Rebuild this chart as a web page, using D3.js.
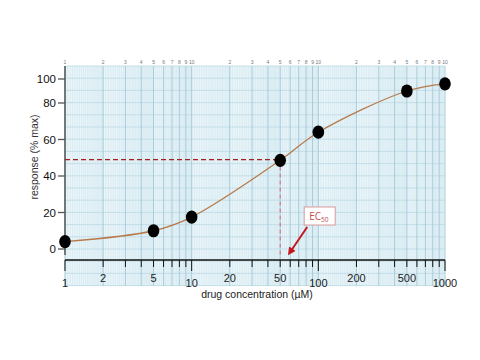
<!DOCTYPE html>
<html>
<head>
<meta charset="utf-8">
<script src="https://cdn.jsdelivr.net/npm/d3@7"></script>
<style>
  body { margin: 0; background: #fff; }
  svg { display: block; font-family: "Liberation Sans", Arial, sans-serif; }
</style>
</head>
<body>
<svg id="chart" width="480" height="360"></svg>
<script>
// data
const concentrations = [1, 5, 10, 50, 100, 500, 1000];
const responses = [4, 10, 17.5, 48.6, 64, 90, 96];
const ec50 = 50;
const ec50Response = 49;

const yTicks = [0, 20, 40, 60, 80, 100];
const xTickLabels = [1, 2, 5, 10, 20, 50, 100, 200, 500, 1000];
const decades = [1, 10, 100];

const width = 480;
const height = 360;
const plot = { left: 65, right: 445, top: 66, axis: 260, bgBottom: 286 };

const svg = d3.select("#chart");

const x = d3.scaleLog()
  .domain([1, 1000])
  .range([plot.left, plot.right]);

// the axis in the source is not evenly spaced above 80
const y = d3.scaleLinear()
  .domain([0, 80, 100])
  .range([249, 103, 79]);

// log paper background
const bg = svg.append("g");
bg.append("rect")
  .attr("x", plot.left)
  .attr("y", plot.top)
  .attr("width", plot.right - plot.left)
  .attr("height", plot.bgBottom - plot.top)
  .attr("fill", "#eaf5f9");

const fine = [];
decades.forEach(d => {
  d3.range(1, 2, 0.05).forEach(m => fine.push(m * d));
  d3.range(2, 5, 0.1).forEach(m => fine.push(m * d));
  d3.range(5, 10, 0.2).forEach(m => fine.push(m * d));
});
bg.selectAll(".fine")
  .data(fine)
  .enter()
  .append("line")
  .attr("x1", d => x(d))
  .attr("x2", d => x(d))
  .attr("y1", plot.top)
  .attr("y2", plot.bgBottom)
  .attr("stroke", "#cde5ee")
  .attr("stroke-width", 0.6);

// horizontal rules of the paper
bg.selectAll(".hrule")
  .data(d3.range(plot.top, plot.bgBottom, 12.2))
  .enter()
  .append("line")
  .attr("x1", plot.left)
  .attr("x2", plot.right)
  .attr("y1", d => d)
  .attr("y2", d => d)
  .attr("stroke", "#bcd9e4")
  .attr("stroke-width", 0.8);

const major = [];
decades.forEach(d => d3.range(1, 10).forEach(m => major.push(m * d)));
major.push(1000);
bg.selectAll(".major")
  .data(major)
  .enter()
  .append("line")
  .attr("x1", d => x(d))
  .attr("x2", d => x(d))
  .attr("y1", plot.top)
  .attr("y2", plot.bgBottom)
  .attr("stroke", "#a3c8d8")
  .attr("stroke-width", 0.9);

// tiny labels printed on top of the paper
bg.selectAll(".paper-label")
  .data(major)
  .enter()
  .append("text")
  .attr("x", d => x(d))
  .attr("y", plot.top - 2)
  .attr("text-anchor", "middle")
  .attr("fill", "#777")
  .style("font-size", "5px")
  .text(d => {
    const m = Math.round(d / Math.pow(10, Math.floor(Math.log10(d) + 1e-9)));
    if (d === 1) return "1";
    return m === 1 ? "10" : m;
  });

// x axis
const xAxis = svg.append("g");
xAxis.append("line")
  .attr("x1", plot.left)
  .attr("x2", plot.right)
  .attr("y1", plot.axis)
  .attr("y2", plot.axis)
  .attr("stroke", "#111")
  .attr("stroke-width", 1.3);

const isDecade = d => Math.abs(Math.log10(d) - Math.round(Math.log10(d))) < 1e-9;
xAxis.selectAll(".xtick")
  .data(major)
  .enter()
  .append("line")
  .attr("x1", d => x(d))
  .attr("x2", d => x(d))
  .attr("y1", plot.axis)
  .attr("y2", d => plot.axis + (isDecade(d) ? 11 : 7))
  .attr("stroke", "#111")
  .attr("stroke-width", 1);

xAxis.selectAll(".xlabel")
  .data(xTickLabels)
  .enter()
  .append("text")
  .attr("x", d => x(d))
  .attr("y", d => isDecade(d) ? 287 : 282)
  .attr("text-anchor", "middle")
  .attr("fill", "#222")
  .style("font-size", "11px")
  .text(d => d);

svg.append("text")
  .attr("x", 257)
  .attr("y", 298)
  .attr("text-anchor", "middle")
  .attr("fill", "#222")
  .style("font-size", "10.5px")
  .text("drug concentration (\u00b5M)");

// y axis
const yAxis = svg.append("g");
yAxis.append("line")
  .attr("x1", plot.left)
  .attr("x2", plot.left)
  .attr("y1", plot.top)
  .attr("y2", 255)
  .attr("stroke", "#555")
  .attr("stroke-width", 1.5);

yAxis.selectAll(".ytick")
  .data(yTicks)
  .enter()
  .append("line")
  .attr("x1", plot.left - 7)
  .attr("x2", plot.left)
  .attr("y1", d => y(d))
  .attr("y2", d => y(d))
  .attr("stroke", "#555")
  .attr("stroke-width", 1.3);

yAxis.selectAll(".ylabel")
  .data(yTicks)
  .enter()
  .append("text")
  .attr("x", 56)
  .attr("y", d => y(d) + 4)
  .attr("text-anchor", "end")
  .attr("fill", "#111")
  .style("font-size", "11.5px")
  .text(d => d);

svg.append("text")
  .attr("transform", "translate(38,157) rotate(-90)")
  .attr("text-anchor", "middle")
  .attr("fill", "#333")
  .style("font-size", "10.5px")
  .text("response (% max)");

// EC50 guides
svg.append("line")
  .attr("x1", plot.left)
  .attr("x2", x(ec50))
  .attr("y1", y(ec50Response))
  .attr("y2", y(ec50Response))
  .attr("stroke", "#9e1f24")
  .attr("stroke-width", 1.2)
  .attr("stroke-dasharray", "5,3");

svg.append("line")
  .attr("x1", x(ec50))
  .attr("x2", x(ec50))
  .attr("y1", y(ec50Response))
  .attr("y2", plot.axis - 2)
  .attr("stroke", "#d36b80")
  .attr("stroke-width", 1)
  .attr("stroke-dasharray", "4,3");

// fitted curve
const points = concentrations.map((c, i) => [c, responses[i]]);
const line = d3.line()
  .x(d => x(d[0]))
  .y(d => y(d[1]))
  .curve(d3.curveCatmullRom.alpha(0.5));

svg.append("path")
  .datum(points)
  .attr("d", line)
  .attr("fill", "none")
  .attr("stroke", "#b87a4b")
  .attr("stroke-width", 1.3);

svg.selectAll(".dot")
  .data(points)
  .enter()
  .append("ellipse")
  .attr("cx", d => x(d[0]))
  .attr("cy", d => y(d[1]))
  .attr("rx", 5.8)
  .attr("ry", 6.6)
  .attr("fill", "#000");

// EC50 callout
const defs = svg.append("defs");
defs.append("marker")
  .attr("id", "arrow")
  .attr("viewBox", "0 0 10 10")
  .attr("refX", 5)
  .attr("refY", 5)
  .attr("markerWidth", 4)
  .attr("markerHeight", 4)
  .attr("orient", "auto")
  .append("path")
  .attr("d", "M0,0 L10,5 L0,10 z")
  .attr("fill", "#c4161c");

const bx = x(ec50) + 24;
const by = 207;
svg.append("rect")
  .attr("x", bx)
  .attr("y", by)
  .attr("width", 31)
  .attr("height", 18)
  .attr("fill", "#fff")
  .attr("stroke", "#d99a9a")
  .attr("stroke-width", 1);

const label = svg.append("text")
  .attr("x", bx + 5)
  .attr("y", by + 13)
  .attr("fill", "#c0504d")
  .style("font-family", "'Open Sans', sans-serif")
  .style("font-size", "10px")
  .text("EC");
label.append("tspan")
  .attr("dy", 2)
  .style("font-size", "6.5px")
  .text("50");

svg.append("line")
  .attr("x1", bx + 3)
  .attr("y1", by + 20)
  .attr("x2", x(ec50) + 10)
  .attr("y2", plot.axis - 8)
  .attr("stroke", "#c4161c")
  .attr("stroke-width", 2)
  .attr("marker-end", "url(#arrow)");
</script>
</body>
</html>
